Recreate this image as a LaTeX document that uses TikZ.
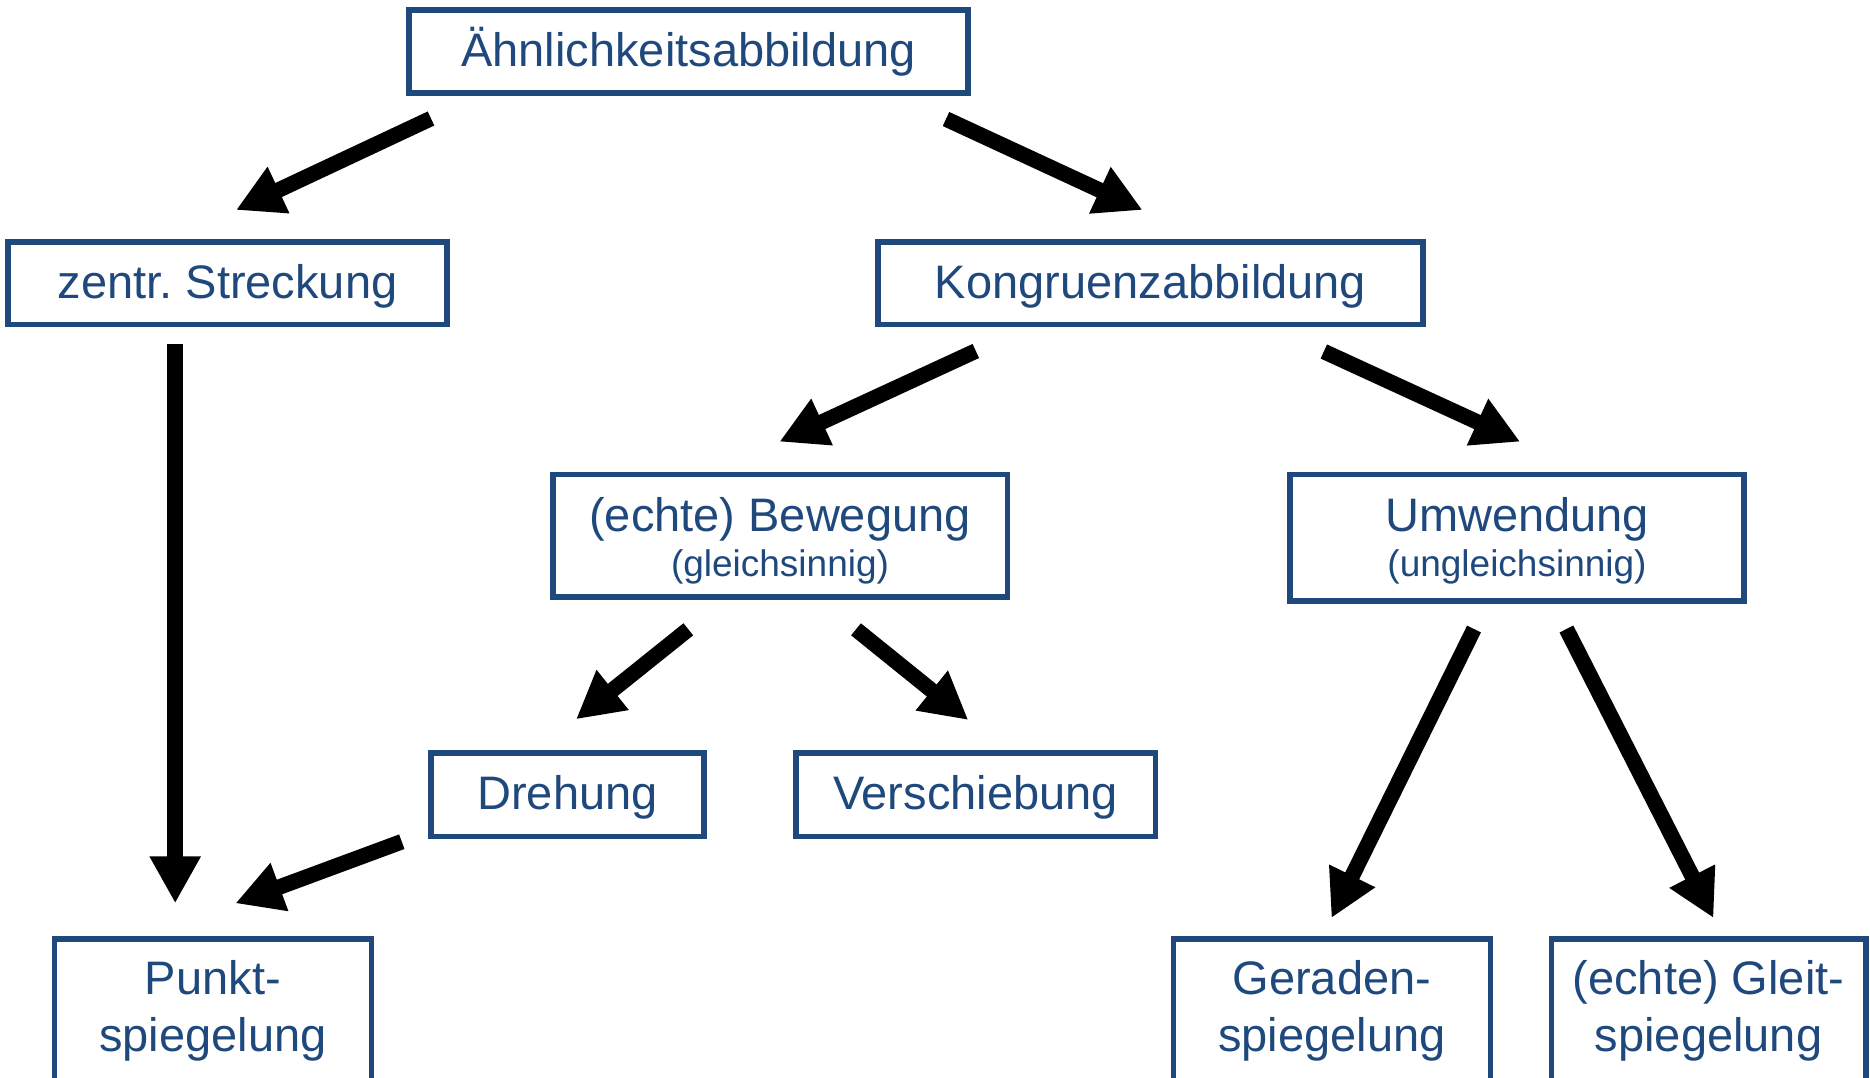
\documentclass[tikz,border=0pt]{standalone}
\usepackage{fontspec}
\setmainfont{Liberation Sans}
\usetikzlibrary{arrows.meta}
\definecolor{boxblue}{RGB}{31,73,125}
\frenchspacing
\begin{document}
\begin{tikzpicture}[x=1pt,y=-1pt,
  box/.style={draw=boxblue, line width=5.5pt, text=boxblue, inner sep=0pt,
    font=\fontsize{47}{57}\selectfont, align=center},
  single/.style={box, text height=38pt, text depth=8pt},
  double/.style={box, font=\fontsize{47}{45}\selectfont, text depth=8pt},
  bottom/.style={box, text height=91.4pt, text depth=10pt, minimum height=144.5pt},
  flow/.style={line width=15.5pt, -{Triangle[length=47pt,width=48pt]}}]
\clip (0,0) rectangle (1870,1077);
\fill[white] (0,0) rectangle (1870,1077);

\node[single, minimum width=558.8pt, minimum height=83.2pt] (A) at (688.6,51.6) {Ähnlichkeitsabbildung};
\node[single, minimum width=439.2pt, minimum height=82.8pt] (Z) at (227.6,283.2) {zentr. Streckung};
\node[single, minimum width=544.8pt, minimum height=82.6pt] (K) at (1150.5,283.1) {Kongruenzabbildung};
\node[double, text height=88.4pt, minimum width=454.5pt, minimum height=122.8pt] (B) at (780,535.8)
  {(echte) Bewegung\\{\fontsize{37}{45}\selectfont (gleichsinnig)}};
\node[double, text height=84.4pt, minimum width=453.9pt, minimum height=126.8pt] (U) at (1517,537.8)
  {Umwendung\\{\fontsize{37}{45}\selectfont (ungleichsinnig)}};
\node[single, minimum width=272.9pt, minimum height=83.5pt] (D) at (567.5,794.5) {Drehung};
\node[single, minimum width=359.5pt, minimum height=83.5pt] (V) at (975.5,794.5) {Verschiebung};
\node[bottom, minimum width=316.8pt] (P) at (212.85,1011) {Punkt-\\spiegelung};
\node[bottom, minimum width=316.8pt] (G) at (1331.85,1011) {Geraden-\\spiegelung};
\node[bottom, minimum width=314.5pt] (GL) at (1708.5,1011) {(echte) Gleit-\\spiegelung};

\coordinate (a1s) at (431,118.5);    \coordinate (a1e) at (236,210);
\coordinate (a2s) at (946,119);      \coordinate (a2e) at (1142.5,210);
\coordinate (a3s) at (175.2,344);    \coordinate (a3e) at (175.2,903.3);
\coordinate (a4s) at (975.8,351);    \coordinate (a4e) at (779.4,441.7);
\coordinate (a5s) at (1323.8,351.5); \coordinate (a5e) at (1520.2,441.7);
\coordinate (a6s) at (688.3,629.3);  \coordinate (a6e) at (576,719.3);
\coordinate (a7s) at (856,629.3);    \coordinate (a7e) at (968.3,720);
\coordinate (a8s) at (1474,629);     \coordinate (a8e) at (1331.4,918);
\coordinate (a9s) at (1566.4,629);   \coordinate (a9e) at (1713.5,918);
\coordinate (a10s) at (401.8,841.7); \coordinate (a10e) at (235.4,903.3);

\draw[flow] (a1s) -- (a1e);
\draw[flow] (a2s) -- (a2e);
\draw[flow] (a3s) -- (a3e);
\draw[flow] (a4s) -- (a4e);
\draw[flow] (a5s) -- (a5e);
\draw[flow] (a6s) -- (a6e);
\draw[flow] (a7s) -- (a7e);
\draw[flow] (a8s) -- (a8e);
\draw[flow] (a9s) -- (a9e);
\draw[flow] (a10s) -- (a10e);
\end{tikzpicture}
\end{document}
